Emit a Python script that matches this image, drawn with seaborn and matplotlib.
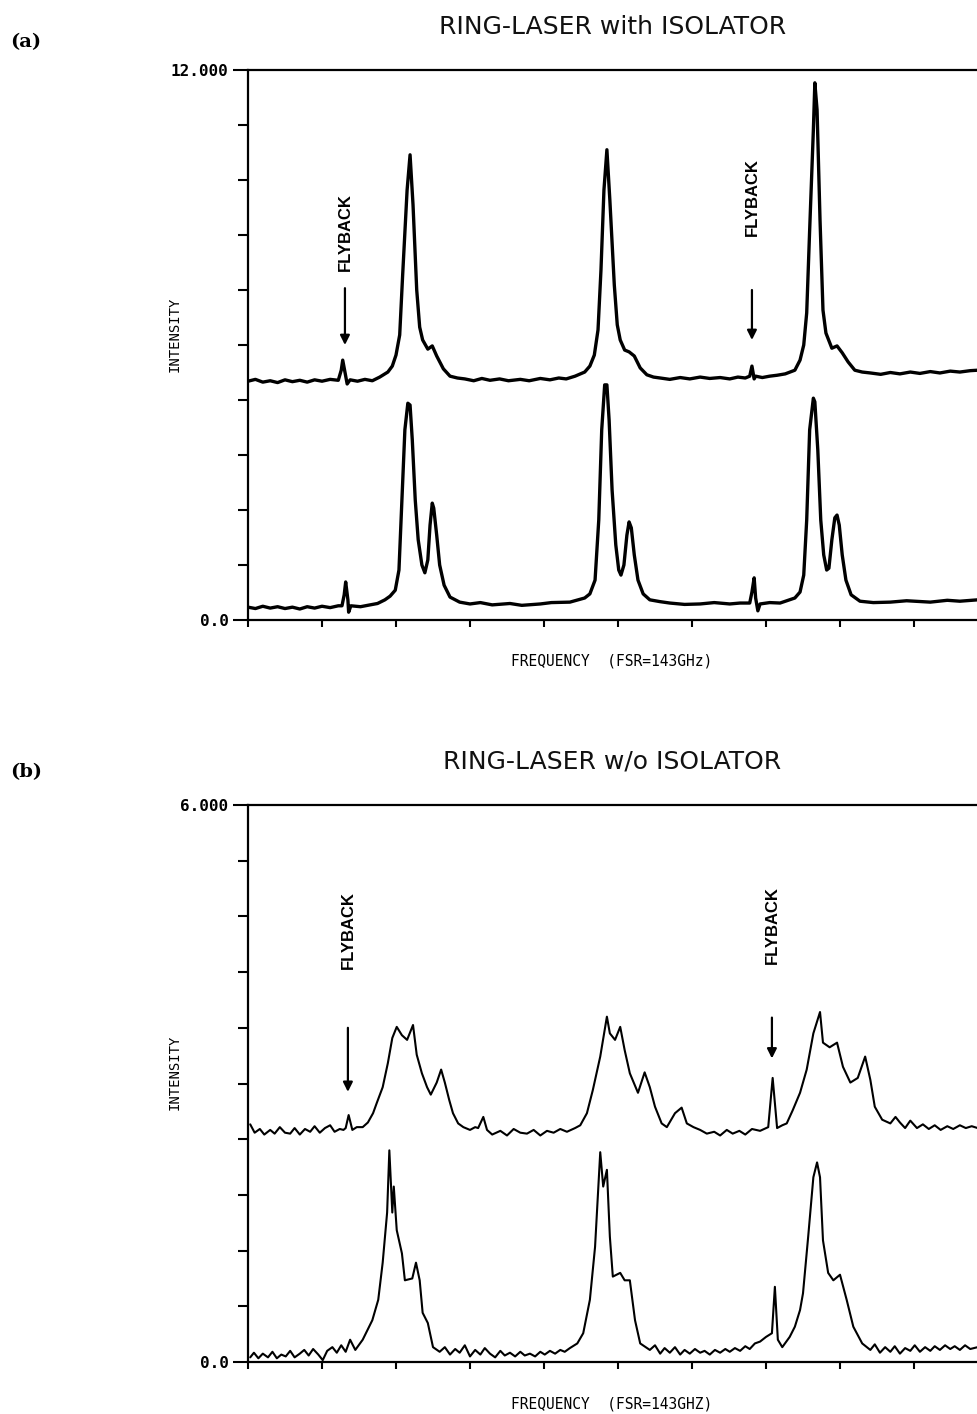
import matplotlib
matplotlib.use("Agg")
import matplotlib.pyplot as plt
from matplotlib.ticker import MultipleLocator, FixedLocator
import pandas as pd
import seaborn as sns

# ---------------------------------------------------------------
# Scanning Fabry-Perot traces; frequency in tick divisions (0..10),
# intensity in arbitrary units.
# ---------------------------------------------------------------

# (a) ring laser with isolator, upper trace
a_upper_x = [0.00, 0.10, 0.20, 0.30, 0.40, 0.50, 0.60, 0.70, 0.80, 0.90, 1.00, 1.11, 1.22,
             1.26, 1.28, 1.31, 1.34, 1.38, 1.48, 1.58, 1.68, 1.78, 1.89, 1.95, 2.00, 2.05,
             2.09, 2.15, 2.19, 2.23, 2.28, 2.32, 2.36, 2.43, 2.49, 2.55, 2.64, 2.73, 2.83,
             2.93, 3.05, 3.16, 3.27, 3.40, 3.52, 3.68, 3.80, 3.95, 4.08, 4.20, 4.30, 4.42,
             4.55, 4.62, 4.68, 4.73, 4.77, 4.81, 4.85, 4.89, 4.95, 4.99, 5.03, 5.09, 5.15,
             5.22, 5.30, 5.39, 5.48, 5.57, 5.70, 5.84, 5.97, 6.11, 6.24, 6.38, 6.51, 6.62,
             6.72, 6.78, 6.81, 6.84, 6.86, 6.95, 7.05, 7.15, 7.26, 7.39, 7.46, 7.51, 7.55,
             7.59, 7.64, 7.66, 7.69, 7.73, 7.77, 7.81, 7.89, 7.96, 8.03, 8.11, 8.20, 8.30,
             8.41, 8.55, 8.68, 8.81, 8.95, 9.08, 9.22, 9.35, 9.49, 9.62, 9.76, 9.86]
a_upper_y = [5.21, 5.25, 5.19, 5.22, 5.18, 5.24, 5.20, 5.23, 5.19, 5.24, 5.21, 5.25, 5.23,
             5.45, 5.67, 5.41, 5.15, 5.24, 5.21, 5.25, 5.22, 5.30, 5.41, 5.54, 5.78, 6.22,
             7.53, 9.38, 10.15, 9.06, 7.20, 6.39, 6.11, 5.91, 5.98, 5.76, 5.48, 5.32, 5.28,
             5.26, 5.22, 5.27, 5.23, 5.26, 5.22, 5.25, 5.22, 5.27, 5.24, 5.28, 5.26, 5.32,
             5.41, 5.54, 5.78, 6.33, 7.64, 9.38, 10.26, 9.16, 7.31, 6.44, 6.11, 5.89, 5.85,
             5.76, 5.50, 5.35, 5.30, 5.28, 5.25, 5.29, 5.26, 5.30, 5.27, 5.29, 5.26, 5.30,
             5.28, 5.32, 5.54, 5.26, 5.32, 5.29, 5.32, 5.34, 5.37, 5.45, 5.67, 6.00, 6.70,
             8.51, 10.69, 11.72, 11.13, 8.73, 6.76, 6.26, 5.93, 5.98, 5.83, 5.63, 5.45, 5.41,
             5.39, 5.36, 5.40, 5.37, 5.41, 5.38, 5.42, 5.39, 5.43, 5.41, 5.44, 5.45]

# (a) lower trace
a_lower_x = [0.00, 0.10, 0.20, 0.30, 0.40, 0.50, 0.60, 0.70, 0.80, 0.90, 1.00, 1.11, 1.22,
             1.27, 1.30, 1.32, 1.35, 1.36, 1.39, 1.52, 1.65, 1.75, 1.85, 1.92, 1.99, 2.04,
             2.08, 2.12, 2.16, 2.19, 2.22, 2.26, 2.30, 2.35, 2.39, 2.43, 2.46, 2.49, 2.51,
             2.55, 2.59, 2.65, 2.73, 2.86, 3.00, 3.14, 3.30, 3.54, 3.70, 3.95, 4.10, 4.35,
             4.55, 4.62, 4.69, 4.74, 4.78, 4.82, 4.85, 4.88, 4.92, 4.97, 5.01, 5.04, 5.08,
             5.12, 5.15, 5.18, 5.22, 5.27, 5.34, 5.43, 5.57, 5.70, 5.90, 6.11, 6.30, 6.51,
             6.65, 6.78, 6.81, 6.84, 6.86, 6.89, 6.92, 7.05, 7.19, 7.39, 7.46, 7.51, 7.55,
             7.59, 7.64, 7.66, 7.70, 7.74, 7.78, 7.82, 7.85, 7.89, 7.93, 7.96, 7.99, 8.03,
             8.08, 8.15, 8.27, 8.45, 8.68, 8.90, 9.22, 9.45, 9.62, 9.86]
a_lower_y = [0.28, 0.25, 0.30, 0.26, 0.29, 0.25, 0.28, 0.24, 0.29, 0.26, 0.30, 0.27, 0.31,
             0.31, 0.55, 0.83, 0.44, 0.17, 0.31, 0.29, 0.33, 0.36, 0.44, 0.52, 0.65, 1.09,
             2.62, 4.15, 4.73, 4.69, 3.93, 2.62, 1.75, 1.20, 1.03, 1.31, 2.07, 2.55, 2.44,
             1.85, 1.20, 0.76, 0.50, 0.39, 0.35, 0.38, 0.33, 0.36, 0.32, 0.35, 0.38, 0.39,
             0.48, 0.57, 0.87, 2.18, 4.15, 5.13, 5.13, 4.36, 2.84, 1.64, 1.09, 0.98, 1.20,
             1.85, 2.14, 2.01, 1.42, 0.87, 0.57, 0.44, 0.40, 0.37, 0.34, 0.35, 0.38, 0.35,
             0.37, 0.37, 0.61, 0.92, 0.48, 0.20, 0.35, 0.38, 0.37, 0.48, 0.61, 0.98, 2.18,
             4.15, 4.84, 4.76, 3.71, 2.18, 1.42, 1.09, 1.13, 1.75, 2.23, 2.29, 2.07, 1.42,
             0.87, 0.55, 0.41, 0.38, 0.39, 0.42, 0.39, 0.43, 0.41, 0.44]

# (b) ring laser without isolator, upper trace
b_upper_x = [0.03, 0.09, 0.16, 0.22, 0.30, 0.36, 0.43, 0.50, 0.57, 0.63, 0.70, 0.77, 0.84,
             0.90, 0.97, 1.04, 1.11, 1.17, 1.24, 1.29, 1.32, 1.36, 1.41, 1.47, 1.55, 1.62,
             1.69, 1.74, 1.82, 1.89, 1.95, 2.01, 2.08, 2.15, 2.23, 2.28, 2.35, 2.42, 2.47,
             2.55, 2.61, 2.66, 2.72, 2.77, 2.84, 2.91, 3.00, 3.07, 3.11, 3.18, 3.23, 3.30,
             3.41, 3.50, 3.59, 3.68, 3.77, 3.86, 3.95, 4.04, 4.13, 4.22, 4.31, 4.42, 4.49,
             4.58, 4.66, 4.76, 4.85, 4.89, 4.96, 5.03, 5.09, 5.16, 5.27, 5.36, 5.43, 5.50,
             5.59, 5.66, 5.77, 5.86, 5.93, 6.02, 6.11, 6.20, 6.30, 6.38, 6.47, 6.55, 6.64,
             6.72, 6.81, 6.92, 7.03, 7.09, 7.15, 7.22, 7.28, 7.36, 7.46, 7.55, 7.64, 7.73,
             7.77, 7.86, 7.96, 8.04, 8.14, 8.24, 8.34, 8.41, 8.47, 8.57, 8.68, 8.75, 8.81,
             8.88, 8.95, 9.04, 9.12, 9.20, 9.28, 9.36, 9.45, 9.53, 9.62, 9.70, 9.78, 9.86]
b_upper_y = [2.56, 2.47, 2.51, 2.45, 2.50, 2.46, 2.53, 2.47, 2.46, 2.52, 2.45, 2.51, 2.48,
             2.54, 2.47, 2.52, 2.55, 2.48, 2.51, 2.50, 2.52, 2.66, 2.50, 2.53, 2.53, 2.58,
             2.68, 2.79, 2.96, 3.22, 3.49, 3.61, 3.52, 3.47, 3.63, 3.31, 3.11, 2.96, 2.88,
             3.01, 3.15, 3.01, 2.82, 2.68, 2.57, 2.53, 2.50, 2.53, 2.52, 2.64, 2.50, 2.45,
             2.49, 2.44, 2.51, 2.47, 2.46, 2.50, 2.44, 2.49, 2.47, 2.51, 2.48, 2.52, 2.55,
             2.68, 2.93, 3.29, 3.72, 3.54, 3.47, 3.61, 3.36, 3.11, 2.90, 3.12, 2.96, 2.75,
             2.57, 2.53, 2.68, 2.74, 2.57, 2.53, 2.50, 2.46, 2.48, 2.44, 2.50, 2.46, 2.49,
             2.45, 2.51, 2.49, 2.53, 3.06, 2.52, 2.55, 2.57, 2.71, 2.90, 3.15, 3.54, 3.77,
             3.44, 3.39, 3.44, 3.18, 3.01, 3.06, 3.29, 3.04, 2.75, 2.61, 2.57, 2.64, 2.58,
             2.52, 2.60, 2.52, 2.56, 2.51, 2.55, 2.50, 2.54, 2.51, 2.55, 2.52, 2.54, 2.52]

# (b) lower trace
b_lower_x = [0.03, 0.08, 0.14, 0.20, 0.27, 0.33, 0.39, 0.45, 0.51, 0.57, 0.63, 0.70, 0.76,
             0.82, 0.88, 0.95, 1.01, 1.07, 1.14, 1.20, 1.26, 1.32, 1.38, 1.45, 1.55, 1.68,
             1.76, 1.82, 1.88, 1.91, 1.95, 1.97, 2.01, 2.08, 2.12, 2.22, 2.27, 2.32, 2.36,
             2.43, 2.50, 2.59, 2.66, 2.73, 2.80, 2.86, 2.93, 3.00, 3.07, 3.14, 3.20, 3.27,
             3.34, 3.41, 3.47, 3.54, 3.61, 3.68, 3.74, 3.81, 3.88, 3.95, 4.01, 4.08, 4.15,
             4.22, 4.28, 4.35, 4.45, 4.53, 4.62, 4.69, 4.76, 4.80, 4.85, 4.89, 4.93, 5.03,
             5.09, 5.16, 5.23, 5.30, 5.43, 5.50, 5.57, 5.63, 5.70, 5.77, 5.84, 5.90, 5.97,
             6.04, 6.11, 6.17, 6.24, 6.31, 6.38, 6.45, 6.51, 6.58, 6.65, 6.72, 6.78, 6.85,
             6.92, 7.00, 7.08, 7.12, 7.16, 7.22, 7.32, 7.39, 7.46, 7.50, 7.57, 7.64, 7.69,
             7.73, 7.77, 7.84, 7.91, 8.00, 8.09, 8.18, 8.30, 8.41, 8.47, 8.54, 8.61, 8.68,
             8.74, 8.81, 8.88, 8.95, 9.01, 9.08, 9.15, 9.22, 9.28, 9.35, 9.42, 9.49, 9.55,
             9.62, 9.69, 9.76, 9.86]
b_lower_y = [0.05, 0.10, 0.04, 0.09, 0.05, 0.11, 0.04, 0.08, 0.06, 0.12, 0.05, 0.09, 0.13,
             0.07, 0.14, 0.08, 0.02, 0.12, 0.16, 0.10, 0.18, 0.11, 0.24, 0.13, 0.24, 0.45,
             0.67, 1.07, 1.61, 2.28, 1.61, 1.89, 1.42, 1.17, 0.88, 0.90, 1.07, 0.88, 0.53,
             0.42, 0.16, 0.11, 0.16, 0.08, 0.14, 0.10, 0.18, 0.06, 0.13, 0.08, 0.15, 0.09,
             0.05, 0.12, 0.07, 0.10, 0.06, 0.11, 0.07, 0.09, 0.06, 0.11, 0.08, 0.12, 0.09,
             0.13, 0.11, 0.15, 0.20, 0.31, 0.67, 1.24, 2.26, 1.89, 2.07, 1.35, 0.92, 0.96,
             0.88, 0.88, 0.45, 0.20, 0.13, 0.18, 0.09, 0.15, 0.10, 0.16, 0.08, 0.13, 0.09,
             0.14, 0.10, 0.12, 0.08, 0.13, 0.10, 0.14, 0.11, 0.15, 0.12, 0.17, 0.14, 0.20,
             0.22, 0.27, 0.31, 0.81, 0.24, 0.16, 0.27, 0.38, 0.56, 0.74, 1.35, 1.99, 2.15,
             1.99, 1.31, 0.96, 0.88, 0.94, 0.67, 0.38, 0.20, 0.13, 0.19, 0.10, 0.16, 0.11,
             0.17, 0.09, 0.15, 0.12, 0.18, 0.11, 0.16, 0.12, 0.17, 0.13, 0.18, 0.14, 0.17,
             0.13, 0.18, 0.14, 0.16]

# flyback markers: (x position, arrow tail, arrow tip, label centre)
a_flyback = [(1.31, 7.24, 6.00, 8.47), (6.81, 7.20, 6.11, 9.23)]
b_flyback = [(1.35, 3.60, 2.91, 4.65), (7.08, 3.71, 3.27, 4.71)]

panels = [
    dict(tag="(a)", tag_y=1.051, title="RING-LASER with ISOLATOR",
         xlabel="FREQUENCY  (FSR=143GHz)", ymax=12.0, ylabels=["0.0", "12.000"],
         traces=[(a_upper_x, a_upper_y), (a_lower_x, a_lower_y)], flyback=a_flyback, lw=2.4),
    dict(tag="(b)", tag_y=1.06, title="RING-LASER w/o ISOLATOR",
         xlabel="FREQUENCY  (FSR=143GHZ)", ymax=6.0, ylabels=["0.0", "6.000"],
         traces=[(b_upper_x, b_upper_y), (b_lower_x, b_lower_y)], flyback=b_flyback, lw=1.5),
]

sns.set_style("ticks")
plt.rcParams["font.family"] = ["DejaVu Sans"]
plt.rcParams["text.color"] = "black"
plt.rcParams["xtick.color"] = "black"
plt.rcParams["ytick.color"] = "black"

W, H = 978, 1414
fig = plt.figure(figsize=(W / 100, H / 100), dpi=100)
axes = [fig.add_axes([248 / W, 794 / H, 740 / W, 550 / H]),
        fig.add_axes([248 / W, 52 / H, 740 / W, 557 / H])]

for ax, p in zip(axes, panels):
    frames = []
    for i, (xs, ys) in enumerate(p["traces"]):
        frames.append(pd.DataFrame({"freq": xs, "intensity": ys, "trace": i}))
    df = pd.concat(frames, ignore_index=True)
    sns.lineplot(data=df, x="freq", y="intensity", units="trace", estimator=None,
                 color="black", lw=p["lw"], ax=ax, legend=False)

    ax.set_xlim(0, 10)
    ax.set_ylim(0, p["ymax"])
    ax.set_xlabel("")
    ax.set_ylabel("")

    ax.xaxis.set_major_locator(FixedLocator(list(range(0, 11))))
    ax.set_xticklabels([])
    ax.yaxis.set_major_locator(FixedLocator([0, p["ymax"]]))
    ax.yaxis.set_minor_locator(MultipleLocator(p["ymax"] / 10))
    ax.set_yticklabels(p["ylabels"], family="DejaVu Sans Mono", weight="bold", fontsize=11.5,
                       color="black")
    ax.tick_params(axis="x", direction="out", length=5, width=1.5, top=False, pad=2,
                   color="black")
    ax.tick_params(axis="y", which="major", direction="out", length=11, width=1.5, pad=3,
                   color="black")
    ax.tick_params(axis="y", which="minor", direction="out", length=7, width=1.5,
                   color="black")

    for side in ("left", "bottom", "top"):
        ax.spines[side].set_visible(True)
        ax.spines[side].set_linewidth(1.6)
        ax.spines[side].set_color("black")
    ax.spines["right"].set_visible(False)

    ax.text(0.492, 1.078, p["title"], transform=ax.transAxes, ha="center", va="center",
            fontsize=18, color="#111111")
    ax.text(-0.322, p["tag_y"], p["tag"], transform=ax.transAxes,
            ha="left", va="center", fontsize=14, weight="bold", family="DejaVu Serif",
            color="black")
    ax.text(0.492, -0.075, p["xlabel"], transform=ax.transAxes, ha="center", va="center",
            fontsize=10.5, family="DejaVu Sans Mono", color="black")
    ax.text(-0.099, 0.52, "INTENSITY", transform=ax.transAxes, ha="center", va="center",
            rotation=90, fontsize=10, family="DejaVu Sans Mono", color="black")

    for fx, tail, tip, lab in p["flyback"]:
        ax.annotate("", xy=(fx, tip), xytext=(fx, tail),
                    arrowprops=dict(arrowstyle="-|>", color="black", lw=1.6,
                                    mutation_scale=14, shrinkA=0, shrinkB=0))
        ax.text(fx, lab, "FLYBACK", rotation=90, ha="center", va="center",
                fontsize=12, weight="bold", family=["Liberation Sans", "DejaVu Sans"],
                color="black")

fig.savefig("out.png", dpi=100)
